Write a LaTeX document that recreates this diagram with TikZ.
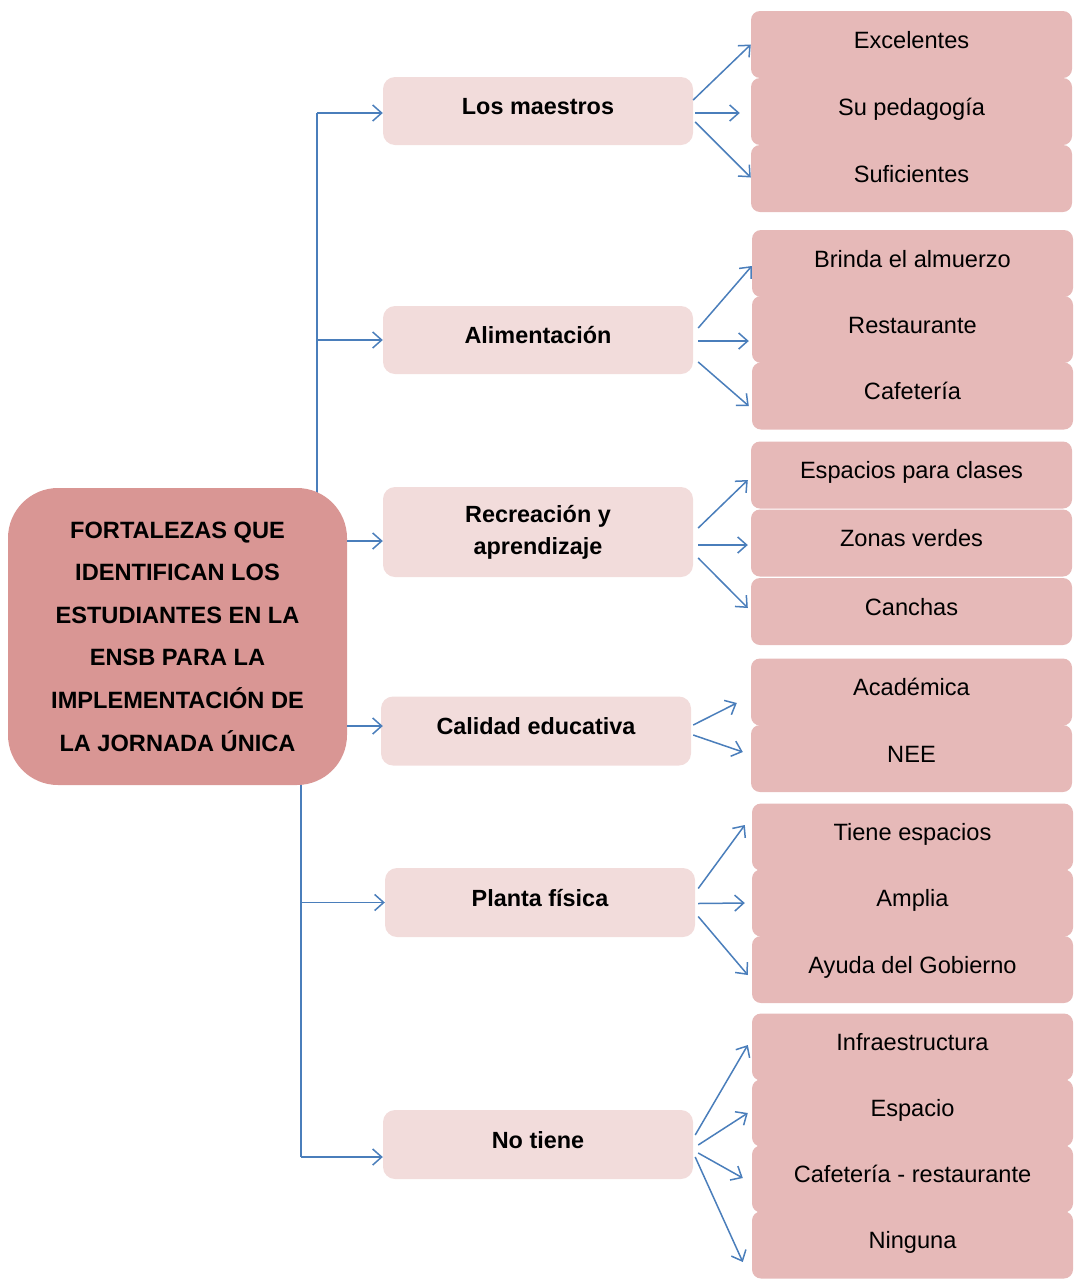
\documentclass[tikz,border=0pt]{standalone}
\usepackage{fontspec}
\setmainfont{Liberation Sans}
\usetikzlibrary{calc,arrows.meta,backgrounds}
\definecolor{rootc}{HTML}{D99694}
\definecolor{midc}{HTML}{F2DCDB}
\definecolor{rc}{HTML}{E6B9B8}
\definecolor{arrc}{HTML}{4A7EBB}
\begin{document}
\begin{tikzpicture}[x=1pt,y=-1pt,
  rootbox/.style={fill=rootc, rounded corners=50pt, minimum width=339pt, minimum height=297pt, inner sep=0pt, align=center, font=\fontsize{23.6}{42.6}\selectfont\bfseries},
  midbox/.style={fill=midc, rounded corners=12pt, minimum width=310pt, minimum height=68pt, inner sep=0pt, align=center, font=\fontsize{23.4}{32}\selectfont\bfseries},
  onel/.style={text height=16pt, text depth=9pt},
  rbox/.style={fill=rc, rounded corners=9pt, minimum width=321pt, minimum height=67pt, inner sep=0pt, text height=16pt, text depth=9pt, font=\fontsize{23.6}{27}\selectfont},
  arr/.style={draw=arrc, line width=1.5pt, -{Straight Barb[length=9pt,width=16pt]}},
  ln/.style={draw=arrc, line width=1.5pt}]
\useasboundingbox (0,0) rectangle (1079,1280);

% root
\node[rootbox] (root) at (177.5,636.5) {FORTALEZAS QUE\\IDENTIFICAN LOS\\ESTUDIANTES EN LA\\ENSB PARA LA\\IMPLEMENTACIÓN DE\\LA JORNADA ÚNICA};

% middle boxes
\node[midbox,onel] (m1) at (538,111) {Los maestros};
\node[midbox,onel] (m2) at (538,340) {Alimentación};
\node[midbox,minimum height=90pt] (m3) at (538,532) {Recreación y\\aprendizaje};
\node[midbox,onel,minimum height=69pt] (m4) at (536,731) {Calidad educativa};
\node[midbox,onel,minimum height=69pt] (m5) at (540,902.5) {Planta física};
\node[midbox,onel,minimum height=69pt] (m6) at (538,1144.5) {No tiene};

% right boxes
\node[rbox] (r11) at (911.5,44.5) {Excelentes};
\node[rbox] (r12) at (911.5,111.5) {Su pedagogía};
\node[rbox] (r13) at (911.5,178.5) {Suficientes};
\node[rbox] (r21) at (912.5,263.5) {Brinda el almuerzo};
\node[rbox] (r22) at (912.5,329.5) {Restaurante};
\node[rbox] (r23) at (912.5,396) {Cafetería};
\node[rbox] (r31) at (911.5,475) {Espacios para clases};
\node[rbox] (r32) at (911.5,543) {Zonas verdes};
\node[rbox] (r33) at (911.5,611.5) {Canchas};
\node[rbox] (r41) at (911.5,692) {Académica};
\node[rbox] (r42) at (911.5,758.5) {NEE};
\node[rbox] (r51) at (912.5,837) {Tiene espacios};
\node[rbox] (r52) at (912.5,903) {Amplia};
\node[rbox] (r53) at (912.5,969.5) {Ayuda del Gobierno};
\node[rbox] (r61) at (912.5,1047) {Infraestructura};
\node[rbox] (r62) at (912.5,1113) {Espacio};
\node[rbox] (r63) at (912.5,1179) {Cafetería - restaurante};
\node[rbox] (r64) at (912.5,1245) {Ninguna};

% connector points
\coordinate (ju) at (317,113);
\coordinate (jd) at (301,1157);
\coordinate (a1) at ($(m1.west)+(0,2)$);
\coordinate (a3) at ($(m3.west)+(0,9)$);
\coordinate (a4) at ($(m4.west)+(2,-5)$);
\coordinate (a6) at ($(m6.west)+(0,12.5)$);

\begin{scope}[on background layer]
\draw[ln] (root.center -| ju) -- (ju);
\draw[arr] (ju) -- (a1);
\draw[arr] (ju |- m2.west) -- (m2.west);
\draw[ln] (root.center -| jd) -- (jd);
\draw[arr] (jd |- m5.west) -- (m5.west);
\draw[arr] (jd) -- (a6);
\end{scope}
\draw[arr] (a3 -| root.east) -- (a3);
\draw[arr] (a4 -| root.east) -- (a4);

% group 1
\draw[arr] ($(m1.east)+(0,-11)$) -- (r11.west);
\draw[arr] ($(m1.east)+(2,2)$) -- ($(r12.west)+(-11,1.5)$);
\draw[arr] ($(m1.east)+(2,11)$) -- ($(r13.west)+(0,-1)$);
% group 2
\draw[arr] ($(m2.east)+(5,-12)$) -- ($(r21.west)+(0,2.5)$);
\draw[arr] ($(m2.east)+(5,1)$) -- ($(r22.west)+(-3,11.5)$);
\draw[arr] ($(m2.east)+(5,22)$) -- ($(r23.west)+(-3,10)$);
% group 3
\draw[arr] ($(m3.east)+(5,-4)$) -- ($(r31.west)+(-3,5)$);
\draw[arr] ($(m3.east)+(5,13)$) -- ($(r32.west)+(-3,2)$);
\draw[arr] ($(m3.east)+(5,26)$) -- ($(r33.west)+(-3,-3.5)$);
% group 4
\draw[arr] ($(m4.east)+(2,-6)$) -- ($(r41.west)+(-14,11)$);
\draw[arr] ($(m4.east)+(2,4)$) -- ($(r42.west)+(-8,-6.5)$);
% group 5
\draw[arr] ($(m5.east)+(3,-14)$) -- ($(r51.west)+(-7,-12)$);
\draw[arr] ($(m5.east)+(3,1)$) -- ($(r52.west)+(-7,0)$);
\draw[arr] ($(m5.east)+(3,14)$) -- ($(r53.west)+(-4,5.5)$);
% group 6
\draw[arr] ($(m6.east)+(2,-9.5)$) -- ($(r61.west)+(-4,-2)$);
\draw[arr] ($(m6.east)+(5,0.5)$) -- ($(r62.west)+(-4,0)$);
\draw[arr] ($(m6.east)+(5,8.5)$) -- ($(r63.west)+(-9,-1)$);
\draw[arr] ($(m6.east)+(2,12.5)$) -- ($(r64.west)+(-9,17)$);
\end{tikzpicture}
\end{document}
